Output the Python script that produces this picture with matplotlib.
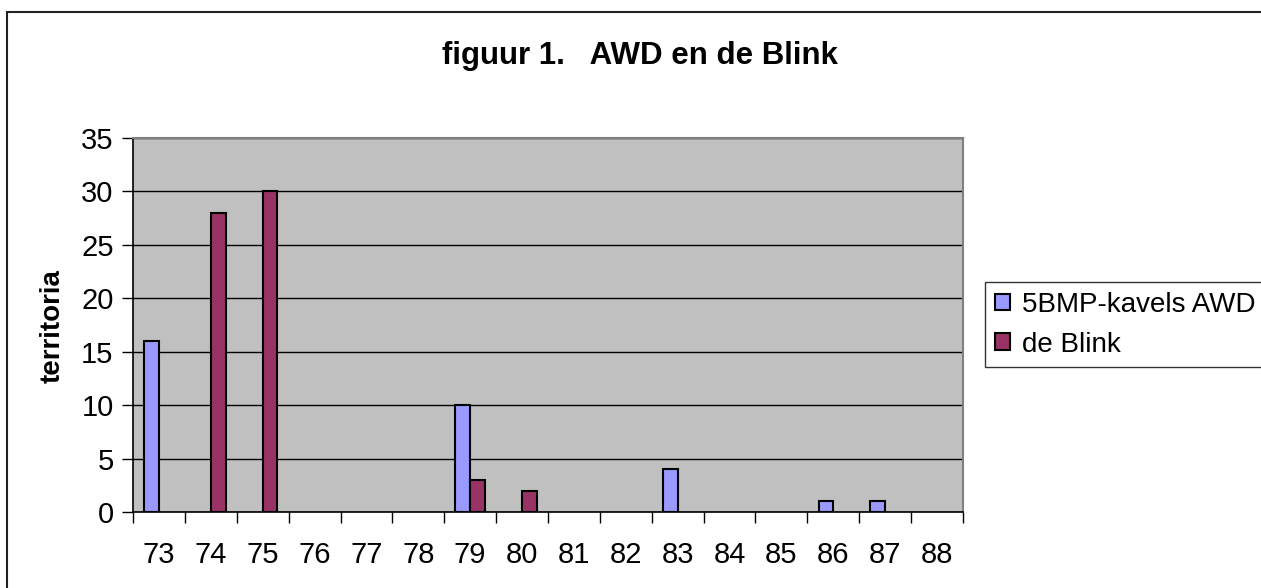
import numpy as np
import matplotlib.pyplot as plt
from matplotlib.patches import Rectangle

plt.rcParams['font.family'] = ['Liberation Sans', 'DejaVu Sans']

# data
jaren = ['73', '74', '75', '76', '77', '78', '79', '80',
         '81', '82', '83', '84', '85', '86', '87', '88']
awd = np.array([16, 0, 0, 0, 0, 0, 10, 0, 0, 0, 4, 0, 0, 1, 1, 0])
blink = np.array([0, 28, 30, 0, 0, 0, 3, 2, 0, 0, 0, 0, 0, 0, 0, 0])

fig = plt.figure(figsize=(12.61, 5.88), dpi=100)

# outer chart border (runs off right and bottom edge)
fig.patches.append(Rectangle((7 / 1261, -0.1), 1.2, 1.1 - 12 / 588,
                             transform=fig.transFigure, fill=False,
                             edgecolor='#222222', linewidth=1.5, zorder=0))

ax = fig.add_axes([133 / 1261, 1 - 512 / 588, 830 / 1261, 374 / 588])
ax.set_facecolor('#C0C0C0')

x = np.arange(len(jaren))
w = 0.285
m1 = awd > 0
m2 = blink > 0
ax.bar(x[m1] - w / 2, awd[m1], w, color='#9999FF', edgecolor='black',
       linewidth=1.5, label='5BMP-kavels AWD', zorder=3)
ax.bar(x[m2] + w / 2, blink[m2], w, color='#993366', edgecolor='black',
       linewidth=1.5, label='de Blink', zorder=3)

ax.set_xlim(-0.5, len(jaren) - 0.5)
ax.set_ylim(0, 35)
ax.set_yticks(range(0, 36, 5))
ax.yaxis.grid(True, color='black', linewidth=1)
ax.set_axisbelow(True)

ax.set_xticks(x)
ax.set_xticklabels(jaren)
ax.set_xticks(np.arange(-0.5, len(jaren)), minor=True)
ax.tick_params(axis='x', which='major', length=0, labelsize=21, pad=21)
ax.tick_params(axis='x', which='minor', length=8, width=1, direction='out')
ax.tick_params(axis='y', length=8, width=1, labelsize=21, pad=6)

for s in ['top', 'right']:
    ax.spines[s].set_color('#808080')
    ax.spines[s].set_linewidth(1.5)
for s in ['left', 'bottom']:
    ax.spines[s].set_color('black')
    ax.spines[s].set_linewidth(1.2)

ax.set_ylabel('territoria', fontsize=20, fontweight='bold', va='center')
ax.yaxis.set_label_coords(-80 / 830, (512 - 326) / 374)
fig.text(640 / 1261, 1 - 64 / 588, 'figuur 1.   AWD en de Blink', ha='center',
         va='baseline', fontsize=22.5, fontweight='bold')

leg = fig.legend(loc='upper left', bbox_to_anchor=(985 / 1261, 1 - 282 / 588),
                 fontsize=20, frameon=True, fancybox=False, edgecolor='black',
                 handlelength=0.55, handleheight=0.55, handletextpad=0.45,
                 labelspacing=0.5, borderpad=0.35, borderaxespad=0)
leg.get_frame().set_linewidth(1)

fig.savefig('out.png', dpi=100, facecolor='white')
